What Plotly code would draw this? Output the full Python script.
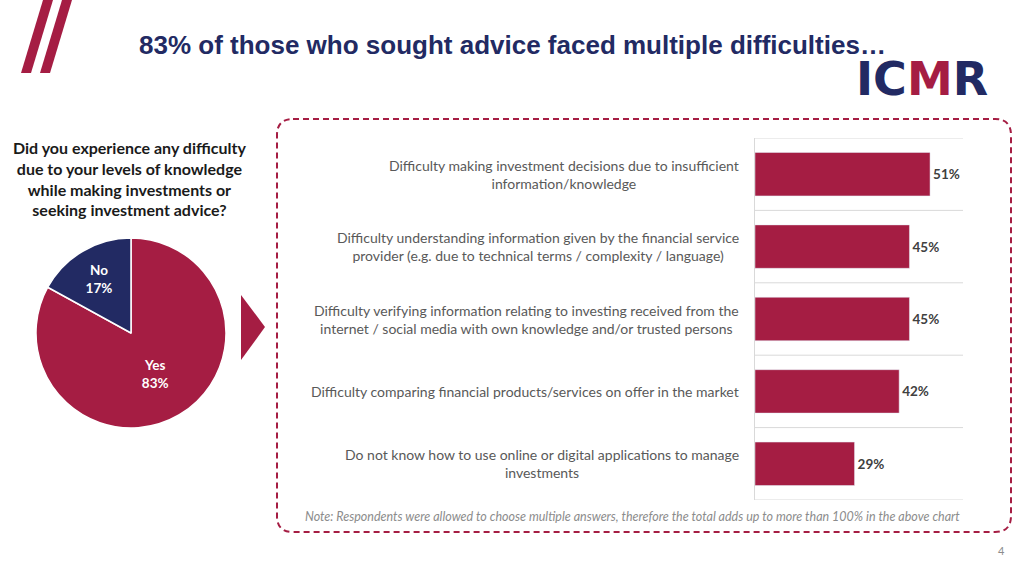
import plotly.graph_objects as go

# ---------- data ----------
pie_labels = ["Yes", "No"]
pie_values = [83, 17]

categories = [
    "Difficulty making investment decisions due to insufficient<br>information/knowledge",
    "Difficulty understanding information given by the financial service<br>provider (e.g. due to technical terms / complexity / language)",
    "Difficulty verifying information relating to investing received from the<br>internet / social media with own knowledge and/or trusted persons",
    "Difficulty comparing financial products/services on offer in the market",
    "Do not know how to use online or digital applications to manage<br>investments",
]
shares = [51, 45, 45, 42, 29]

title = "83% of those who sought advice faced multiple difficulties…"
question = ("Did you experience any difficulty<br>due to your levels of knowledge<br>"
            "while making investments or<br>seeking investment advice?")
note = ("Note: Respondents were allowed to choose multiple answers, therefore the total "
        "adds up to more than 100% in the above chart")

CRIMSON = "#A51D43"
NAVY = "#222A63"
W, H = 1024, 576


def px(x):
    return x / W


def py(y):
    return 1 - y / H


# ---------- figure ----------
fig = go.Figure()

fig.add_trace(go.Pie(
    labels=pie_labels,
    values=pie_values,
    sort=False,
    direction="clockwise",
    rotation=0,
    marker=dict(colors=[CRIMSON, NAVY], line=dict(color="white", width=1.5)),
    texttemplate="<b>%{label}<br>%{value}%</b>",
    textposition="inside",
    insidetextorientation="horizontal",
    textfont=dict(family="Lato", size=13.5, color="white"),
    domain=dict(x=[px(36), px(226)], y=[py(428), py(238)]),
    showlegend=False,
    hoverinfo="label+value",
))

fig.add_trace(go.Bar(
    y=list(range(len(categories))),
    x=shares,
    orientation="h",
    width=0.6,
    marker=dict(color=CRIMSON),
    text=[f"<b>{v}%</b>" for v in shares],
    textposition="outside",
    cliponaxis=False,
    textfont=dict(family="Lato", size=13.5, color="#404040"),
    showlegend=False,
    hovertemplate="%{x}%<extra></extra>",
))

shapes = []
# category separator lines
for i in range(len(categories) + 1):
    shapes.append(dict(type="line", xref="x", yref="y", x0=0, x1=60.6,
                       y0=i - 0.5, y1=i - 0.5,
                       line=dict(color="#d9d9d9", width=1)))

# top-left slashes
for x_top, x_bot in [(43, 21), (62, 40)]:
    shapes.append(dict(
        type="path", xref="paper", yref="paper",
        path=(f"M {px(x_top)} {py(0)} L {px(x_top + 10)} {py(0)} "
              f"L {px(x_bot + 10)} {py(73)} L {px(x_bot)} {py(73)} Z"),
        fillcolor=CRIMSON, line=dict(width=0)))

# arrow
shapes.append(dict(
    type="path", xref="paper", yref="paper",
    path=f"M {px(241)} {py(295)} L {px(265)} {py(327)} L {px(241)} {py(360)} Z",
    fillcolor=CRIMSON, line=dict(width=0)))

# dashed rounded box
x0, x1, y0, y1, r = 277, 1011, 119, 532, 16
rx, ry = r / W, r / H
bx0, bx1, by0, by1 = px(x0), px(x1), py(y0), py(y1)
box = (f"M {bx0 + rx} {by0} L {bx1 - rx} {by0} Q {bx1} {by0} {bx1} {by0 - ry} "
       f"L {bx1} {by1 + ry} Q {bx1} {by1} {bx1 - rx} {by1} "
       f"L {bx0 + rx} {by1} Q {bx0} {by1} {bx0} {by1 + ry} "
       f"L {bx0} {by0 - ry} Q {bx0} {by0} {bx0 + rx} {by0} Z")
shapes.append(dict(type="path", xref="paper", yref="paper", path=box,
                   line=dict(color=CRIMSON, width=2, dash="6px,4px")))

annotations = [
    dict(text=f"<b>{title}</b>", x=px(137), y=py(45), xanchor="left", yanchor="middle",
         font=dict(family="Liberation Sans", size=26, color=NAVY)),
    dict(text=(f"<b><span style='color:{NAVY}'>IC</span>"
               f"<span style='color:{CRIMSON}'>M</span>"
               f"<span style='color:{NAVY}'>R</span></b>"),
         x=px(990), y=py(79), xanchor="right", yanchor="middle",
         font=dict(family="DejaVu Sans", size=46)),
    dict(text=f"<b>{question}</b>", x=px(129), y=py(178), xanchor="center", yanchor="middle",
         align="center", font=dict(family="Lato", size=16, color="#1a1a1a")),
    dict(text=f"<i>{note}</i>", x=px(962), y=py(516), xanchor="right", yanchor="middle",
         font=dict(family="Lato", size=12.5, color="#8c8c8c")),
    dict(text="4", x=px(1001), y=py(550), xanchor="center", yanchor="middle",
         font=dict(family="Lato", size=11, color="#8c8c8c")),
]
for i, cat in enumerate(categories):
    annotations.append(dict(
        text=cat, xref="paper", yref="y", x=px(741), y=i,
        xanchor="right", yanchor="middle", align="center",
        font=dict(family="Lato", size=14, color="#595959")))

for a in annotations:
    a.setdefault("xref", "paper")
    a.setdefault("yref", "paper")
    a["showarrow"] = False

fig.update_layout(
    width=W, height=H,
    margin=dict(l=0, r=0, t=0, b=0),
    paper_bgcolor="white",
    plot_bgcolor="white",
    xaxis=dict(domain=[px(755), px(963)], range=[0, 60.6], visible=False, fixedrange=True),
    yaxis=dict(domain=[py(500), py(138)], range=[4.5, -0.5], showticklabels=False,
               showgrid=False, zeroline=False, showline=True, linecolor="#d9d9d9",
               linewidth=1, ticks="", fixedrange=True),
    shapes=shapes,
    annotations=annotations,
)

# drop the browser's default 8px body margin so the slide sits at 0,0
fig.write_html("out.html", config={"displayModeBar": False},
               post_script="document.body.style.margin='0';")
